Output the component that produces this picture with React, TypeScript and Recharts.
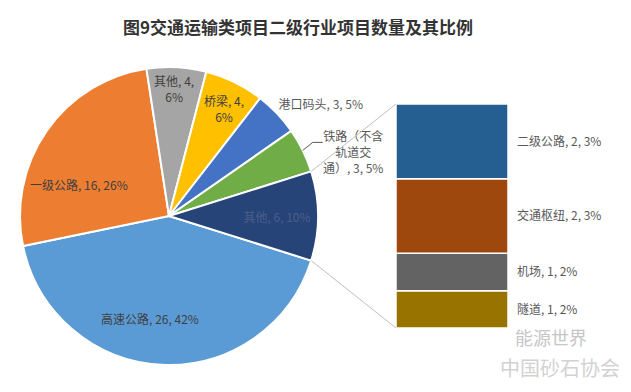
import React from "react";
import { PieChart, Pie, Cell, BarChart, Bar, XAxis, YAxis, LabelList } from "recharts";

const PIE_NAMES = ["高速公路", "一级公路", "其他", "桥梁", "港口码头", "铁路（不含轨道交通）"];
const PIE_VALUES = [26, 16, 4, 4, 3, 3];
const BAR_NAMES = ["二级公路", "交通枢纽", "机场", "隧道"];
const BAR_VALUES = [2, 2, 1, 1];
const REST_NAME = "其他";

const PIE_COLORS = ["#5B9BD5", "#ED7D31", "#A5A5A5", "#FFC000", "#4472C4", "#70AD47", "#264478"];
const BAR_COLORS = ["#255E91", "#9E480E", "#636363", "#997300"];

const W = 631;
const H = 392;
const CX = 169;
const CY = 216;
const R = 149;
const BAR_LEFT = 396;
const BAR_TOP = 104;
const BAR_W = 112;
const BAR_H = 224;
const BAR_LABEL_ROOM = 123;
const FONT = '"Noto Sans CJK SC", "Noto Sans", sans-serif';

const restValue = BAR_VALUES.reduce((a, b) => a + b, 0);
const total = PIE_VALUES.reduce((a, b) => a + b, 0) + restValue;
const pct = (v: number) => Math.round((v / total) * 100);

const pieData = [
  ...PIE_NAMES.map((name, i) => ({ name, value: PIE_VALUES[i] })),
  { name: REST_NAME, value: restValue },
];

const barRow: Record<string, string | number> = { name: REST_NAME };
BAR_NAMES.forEach((n, i) => {
  barRow[n] = BAR_VALUES[i];
});

// where each pie label sits: radius factor, angle tweak, line breaks
const LABEL_LAYOUT = [
  { k: 0.7, dA: -7.6, breaks: [] as number[], fill: "#404040" },
  { k: 0.64, dA: 15.8, breaks: [], fill: "#404040" },
  { k: 0.856, dA: 0.6, breaks: [6], fill: "#404040" },
  { k: 0.81, dA: -1.0, breaks: [6], fill: "#404040" },
  { k: 1.27, dA: -6.9, breaks: [], fill: "#595959" },
  { k: 1.31, dA: -6.8, breaks: [5, 8], fill: "#595959", leader: true },
  { k: 0.725, dA: 0, breaks: [], fill: "#4a5f8c" },
];

const RAD = Math.PI / 180;
const polar = (cx: number, cy: number, r: number, a: number) => ({
  x: cx + r * Math.cos(-a * RAD),
  y: cy + r * Math.sin(-a * RAD),
});

const splitLines = (text: string, breaks: number[]) => {
  const out: string[] = [];
  let prev = 0;
  breaks.forEach((b) => {
    out.push(text.slice(prev, b).trim());
    prev = b;
  });
  out.push(text.slice(prev).trim());
  return out;
};

const renderPieLabel = (props: any) => {
  const { cx, cy, outerRadius, midAngle, startAngle, endAngle, index } = props;
  const d = pieData[index];
  const lay = LABEL_LAYOUT[index];
  const text = `${d.name}, ${d.value}, ${pct(d.value)}%`;
  const lines = splitLines(text, lay.breaks);
  const p = polar(cx, cy, outerRadius * lay.k, midAngle + lay.dA);
  const lh = 16;
  const y0 = p.y - ((lines.length - 1) * lh) / 2;

  let extra: React.ReactNode = null;
  if (lay.leader) {
    const s = polar(cx, cy, outerRadius, midAngle);
    const e1 = { x: s.x + 10, y: s.y - 8 };
    const e2 = { x: e1.x + 10, y: e1.y };
    extra = (
      <polyline
        points={`${s.x},${s.y} ${e1.x},${e1.y} ${e2.x},${e2.y}`}
        fill="none"
        stroke="#595959"
        strokeWidth={1}
      />
    );
  }
  if (index === pieData.length - 1) {
    const up = polar(cx, cy, outerRadius, startAngle);
    const lo = polar(cx, cy, outerRadius, endAngle);
    extra = (
      <g>
        <line x1={up.x} y1={up.y} x2={BAR_LEFT} y2={BAR_TOP} stroke="#BFBFBF" strokeWidth={1} />
        <line x1={lo.x} y1={lo.y} x2={BAR_LEFT} y2={BAR_TOP + BAR_H} stroke="#BFBFBF" strokeWidth={1} />
      </g>
    );
  }

  return (
    <g key={`lbl-${index}`}>
      {extra}
      {lines.map((ln, i) => (
        <text
          key={i}
          x={p.x}
          y={y0 + i * lh}
          fill={lay.fill}
          fontSize={12}
          fontFamily={FONT}
          textAnchor="middle"
          dominantBaseline="central"
        >
          {ln}
        </text>
      ))}
    </g>
  );
};

export default function App() {
  return (
    <div
      style={{
        position: "absolute",
        left: 0,
        top: 0,
        width: W,
        height: H,
        background: "#fff",
        fontFamily: FONT,
        overflow: "hidden",
      }}
    >
      <div style={{ position: "absolute", left: 0, top: 0 }}>
        <PieChart width={W} height={H} margin={{ top: 0, right: 0, bottom: 0, left: 0 }}>
          <Pie
            data={pieData}
            dataKey="value"
            nameKey="name"
            cx={CX}
            cy={CY}
            outerRadius={R}
            startAngle={-(restValue / total) * 180}
            endAngle={-(restValue / total) * 180 - 360}
            stroke="#fff"
            strokeWidth={2}
            label={renderPieLabel}
            labelLine={false}
            isAnimationActive={false}
          >
            {pieData.map((d, i) => (
              <Cell key={i} fill={PIE_COLORS[i]} />
            ))}
          </Pie>
        </PieChart>
      </div>

      <div style={{ position: "absolute", left: BAR_LEFT, top: 0 }}>
        <BarChart
          width={BAR_W + BAR_LABEL_ROOM}
          height={H}
          data={[barRow]}
          margin={{ top: BAR_TOP, right: BAR_LABEL_ROOM, bottom: H - BAR_TOP - BAR_H, left: 0 }}
          barCategoryGap={0}
        >
          <XAxis dataKey="name" hide />
          <YAxis hide type="number" domain={[0, restValue]} allowDataOverflow />
          {BAR_NAMES.map((n, i) => BAR_NAMES.length - 1 - i)
            .map((i) => (
              <Bar
                key={BAR_NAMES[i]}
                dataKey={BAR_NAMES[i]}
                stackId="rest"
                fill={BAR_COLORS[i]}
                stroke="#fff"
                strokeWidth={1.5}
                isAnimationActive={false}
              >
                <LabelList
                  dataKey={BAR_NAMES[i]}
                  position="right"
                  offset={9}
                  fill="#595959"
                  fontSize={12}
                  fontFamily={FONT}
                  formatter={(v: any) => `${BAR_NAMES[i]}, ${v}, ${pct(Number(v))}%`}
                />
              </Bar>
            ))}
        </BarChart>
      </div>

      <div
        style={{
          position: "absolute",
          left: 0,
          top: 16,
          width: 596,
          textAlign: "center",
          fontSize: 17,
          lineHeight: "22px",
          fontWeight: 700,
          color: "#333",
        }}
      >
        图9交通运输类项目二级行业项目数量及其比例
      </div>

      <div style={{ position: "absolute", left: 515, top: 327, fontSize: 18, lineHeight: "20px", color: "#c6c6c6" }}>
        能源世界
      </div>
      <div style={{ position: "absolute", left: 500, top: 357, fontSize: 20, lineHeight: "22px", color: "#d2d2d2" }}>
        中国砂石协会
      </div>
    </div>
  );
}
